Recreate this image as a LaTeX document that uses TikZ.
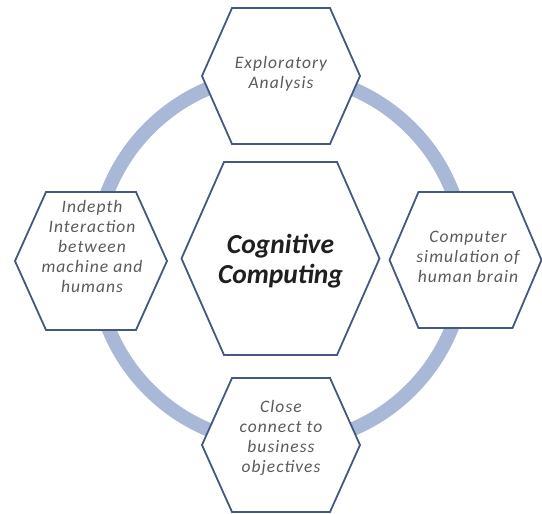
\documentclass[tikz,border=0pt]{standalone}
\usepackage{fontspec}
\setmainfont{Carlito}
\newfontfamily\widefont[LetterSpace=6]{Carlito}
\definecolor{ringc}{RGB}{168,184,214}
\definecolor{hexline}{RGB}{68,88,128}
\definecolor{txtc}{RGB}{90,90,90}
\tikzset{
  hexshape/.style={draw=hexline, line width=1.8pt, fill=white, line join=miter},
  lbl/.style={font=\widefont\itshape\fontsize{17.5}{20}\selectfont, text=txtc, align=center, inner sep=0pt},
  mainlbl/.style={font=\bfseries\itshape\fontsize{27.5}{30.5}\selectfont, text=black!88, align=center, inner sep=0pt},
  ringline/.style={draw=ringc, line width=14pt}
}
% #1 cx, #2 cy, #3 half width, #4 half height, #5 inset of top edge
\newcommand\hexpath[5]{%
  \path[hexshape] (#1-#3,#2) -- (#1-#3+#5,#2-#4) -- (#1+#3-#5,#2-#4) -- (#1+#3,#2)
    -- (#1+#3-#5,#2+#4) -- (#1-#3+#5,#2+#4) -- cycle;}
\begin{document}
\begin{tikzpicture}[x=1pt,y=-1pt]
  \useasboundingbox (0,0) rectangle (542,514);
  \fill[white] (0,0) rectangle (542,514);
  \coordinate (ringc) at (280,259);
  \draw[ringline] (ringc) circle[radius=185];
  \hexpath{280.5}{258.5}{99}{96.5}{42.5}
  \hexpath{281}{76}{79}{68}{30}
  \hexpath{281}{445}{79}{67}{30}
  \hexpath{91}{261}{76}{69}{31}
  \hexpath{465.5}{260}{76}{68}{29}
  \node[mainlbl] (main) at (280.5,261) {Cognitive\\Computing};
  \node[lbl] (top) at (281,74) {Exploratory\\Analysis};
  \node[lbl] (left) at (92,246) {Indepth\\Interaction\\between\\machine and\\humans};
  \node[lbl] (right) at (468,257) {Computer\\simulation of\\human brain};
  \node[lbl] (bottom) at (281,438) {Close\\connect to\\business\\objectives};
\end{tikzpicture}
\end{document}
